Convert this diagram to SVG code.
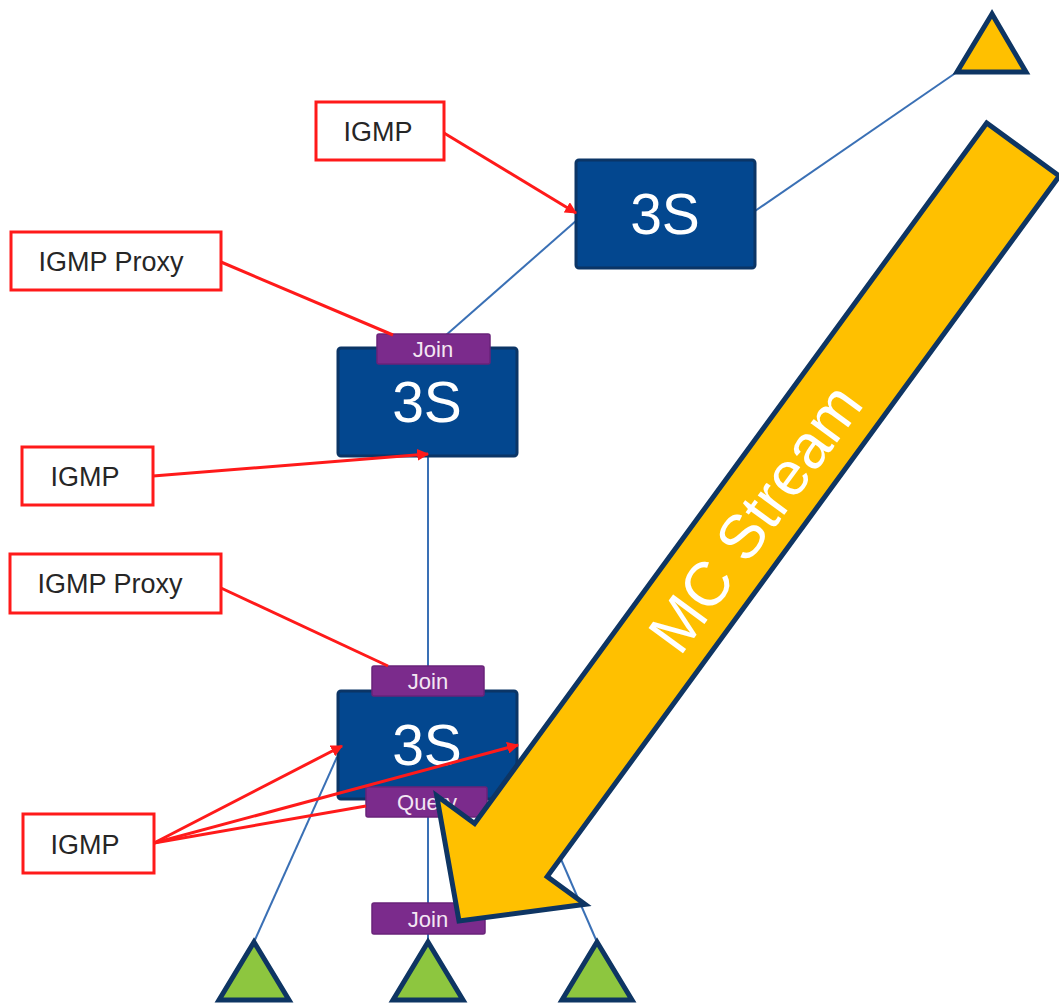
<svg xmlns="http://www.w3.org/2000/svg" width="1059" height="1003" viewBox="0 0 1059 1003">
<defs>
<style>
.lbl{fill:#fff;stroke:#ff1a1a;stroke-width:3}
.lt{font-family:"Liberation Sans",Arial,sans-serif;font-size:27px;fill:#262626;text-anchor:middle}
.sw{fill:#03478f;stroke:#0b3566;stroke-width:3}
.st{font-family:"Liberation Sans",Arial,sans-serif;font-size:57px;fill:#fff;text-anchor:middle}
.tag{fill:#7b2b8c;stroke:#6a2379;stroke-width:1.5}
.tt{font-family:"Liberation Sans",Arial,sans-serif;font-size:22px;fill:#f3e6f3;text-anchor:middle}
.link{stroke:#3a70b5;stroke-width:2;fill:none}
.red{stroke:#ff1a1a;stroke-width:3;fill:none}
.tri{stroke:#0e3563;stroke-width:5;stroke-linejoin:miter}
</style>
<marker id="ah" viewBox="0 0 10 10" refX="9" refY="5" markerWidth="4" markerHeight="4" orient="auto" markerUnits="strokeWidth">
<path d="M0,0 L10,5 L0,10 z" fill="#ff1a1a"/>
</marker>
</defs>
<rect width="1059" height="1003" fill="#fff"/>
<g id="links">
<line class="link" x1="755" y1="211" x2="957" y2="72"/>
<line class="link" x1="445" y1="336" x2="577" y2="220"/>
<line class="link" x1="428" y1="456" x2="428" y2="667"/>
<line class="link" x1="337" y1="757" x2="254" y2="942"/>
<line class="link" x1="428" y1="817" x2="428" y2="942"/>
<line class="link" x1="520" y1="765" x2="597" y2="942"/>
</g>
<g id="tri-top"><polygon class="tri" points="992,14 957,72 1026,72" fill="#ffc000"/></g>
<g id="tri-left"><polygon class="tri" points="254,942 219,1000 289,1000" fill="#8dc63f"/></g>
<g id="tri-mid"><polygon class="tri" points="428,942 393,1000 463,1000" fill="#8dc63f"/></g>
<g id="tri-right"><polygon class="tri" points="597,942 562,1000 632,1000" fill="#8dc63f"/></g>
<g id="igmp1"><rect class="lbl" x="316" y="102" width="128" height="58"/><text class="lt" x="378" y="141">IGMP</text></g>
<g id="proxy1"><rect class="lbl" x="11" y="232" width="210" height="58"/><text class="lt" x="111" y="271">IGMP Proxy</text></g>
<g id="igmp2"><rect class="lbl" x="22" y="447" width="131" height="58"/><text class="lt" x="85" y="486">IGMP</text></g>
<g id="proxy2"><rect class="lbl" x="10" y="554" width="211" height="59"/><text class="lt" x="110" y="593">IGMP Proxy</text></g>
<g id="igmp3"><rect class="lbl" x="23" y="814" width="131" height="59"/><text class="lt" x="85" y="854">IGMP</text></g>
<g id="sw-top"><rect class="sw" x="576" y="160" width="179" height="108" rx="3"/><text class="st" x="665" y="234">3S</text></g>
<g id="sw-mid"><rect class="sw" x="338" y="348" width="179" height="108" rx="3"/><text class="st" x="427" y="422">3S</text></g>
<g id="sw-low"><rect class="sw" x="338" y="691" width="179" height="108" rx="3"/><text class="st" x="427" y="765">3S</text></g>
<g id="join-mid"><rect class="tag" x="377" y="334" width="113" height="30" rx="2"/><text class="tt" x="433" y="357">Join</text></g>
<g id="join-low"><rect class="tag" x="372" y="666" width="112" height="30" rx="2"/><text class="tt" x="428" y="689">Join</text></g>
<g id="query"><rect class="tag" x="366" y="787" width="121" height="30" rx="2"/><text class="tt" x="427" y="810">Query</text></g>
<g id="join-bot"><rect class="tag" x="372" y="903" width="113" height="31" rx="2"/><text class="tt" x="428" y="927">Join</text></g>
<g id="connectors">
<line class="red" x1="444" y1="133" x2="576" y2="213" marker-end="url(#ah)"/>
<line class="red" x1="221" y1="262" x2="393" y2="335"/>
<line class="red" x1="153" y1="476" x2="428" y2="454" marker-end="url(#ah)"/>
<line class="red" x1="221" y1="588" x2="388" y2="666"/>
<line class="red" x1="154" y1="843" x2="342" y2="746" marker-end="url(#ah)"/>
<line class="red" x1="154" y1="843" x2="518" y2="745" marker-end="url(#ah)"/>
<line class="red" x1="154" y1="843" x2="366" y2="806"/>
</g>
<g id="mc-stream">
<polygon points="986.7,122.9 474.6,823.4 436.7,795.7 459,921 585.1,904.3 547.2,876.6 1059.3,176" fill="#ffc000" stroke="#0e3563" stroke-width="5" stroke-linejoin="miter"/>
<text transform="translate(755,518) rotate(-53.8)" font-family="Liberation Sans, Arial, sans-serif" font-size="62" fill="#fff" text-anchor="middle" dy="0.35em">MC Stream</text>
</g>
</svg>
